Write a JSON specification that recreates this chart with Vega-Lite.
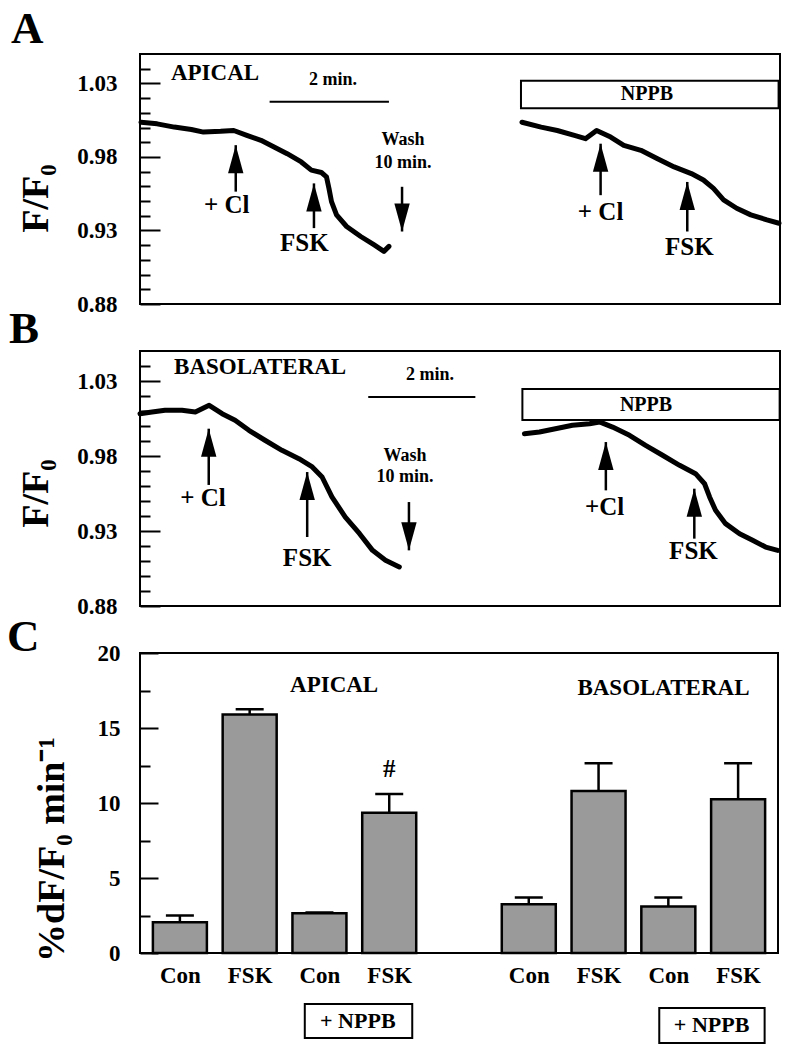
{
  "$schema": "https://vega.github.io/schema/vega-lite/v6.json",
  "padding": {"left": 6, "top": 6, "right": 0, "bottom": 0},
  "spacing": 47,
  "bounds": "flush",
  "config": {
    "font": "Liberation Serif",
    "view": {"stroke": "black", "strokeWidth": 2},
    "axis": {"labelFont": "Liberation Serif", "labelFontWeight": "bold", "labelColor": "black", "titleFont": "Liberation Serif", "titleFontWeight": "bold", "titleColor": "black", "grid": false, "domain": false, "tickColor": "black", "tickWidth": 2, "labelOverlap": false, "labelBound": false, "labelFlush": false},
    "text": {"font": "Liberation Serif", "fontWeight": "bold", "color": "black"},
    "title": {"font": "Liberation Serif", "fontWeight": "bold", "fontSize": 45, "color": "black", "anchor": "start", "frame": "bounds", "baseline": "alphabetic"}
  },
  "datasets": {
    "traceA": [
      {"seg": "control", "t": 1, "v": 1.0036}, {"seg": "control", "t": 17, "v": 1.0025}, {"seg": "control", "t": 34, "v": 1.0003}, {"seg": "control", "t": 51, "v": 0.9987}, {"seg": "control", "t": 63, "v": 0.9969}, {"seg": "control", "t": 80, "v": 0.9974}, {"seg": "control", "t": 93, "v": 0.998}, {"seg": "control", "t": 106, "v": 0.9947}, {"seg": "control", "t": 120, "v": 0.9913}, {"seg": "control", "t": 133, "v": 0.9868}, {"seg": "control", "t": 146, "v": 0.9822}, {"seg": "control", "t": 160, "v": 0.9766}, {"seg": "control", "t": 170, "v": 0.971}, {"seg": "control", "t": 180, "v": 0.9694}, {"seg": "control", "t": 185, "v": 0.9665}, {"seg": "control", "t": 187.5, "v": 0.9586}, {"seg": "control", "t": 190, "v": 0.9496}, {"seg": "control", "t": 195, "v": 0.9406}, {"seg": "control", "t": 205, "v": 0.9327}, {"seg": "control", "t": 219, "v": 0.9259}, {"seg": "control", "t": 232, "v": 0.9203}, {"seg": "control", "t": 242, "v": 0.9158}, {"seg": "control", "t": 247, "v": 0.9192},
      {"seg": "nppb", "t": 379, "v": 1.0036}, {"seg": "nppb", "t": 398, "v": 1.0003}, {"seg": "nppb", "t": 414, "v": 0.998}, {"seg": "nppb", "t": 431, "v": 0.9947}, {"seg": "nppb", "t": 442, "v": 0.9924}, {"seg": "nppb", "t": 453, "v": 0.998}, {"seg": "nppb", "t": 467, "v": 0.9935}, {"seg": "nppb", "t": 480, "v": 0.9879}, {"seg": "nppb", "t": 497, "v": 0.9845}, {"seg": "nppb", "t": 513, "v": 0.9789}, {"seg": "nppb", "t": 530, "v": 0.9732}, {"seg": "nppb", "t": 547, "v": 0.9687}, {"seg": "nppb", "t": 559, "v": 0.9643}, {"seg": "nppb", "t": 569, "v": 0.9586}, {"seg": "nppb", "t": 579, "v": 0.9508}, {"seg": "nppb", "t": 592, "v": 0.9451}, {"seg": "nppb", "t": 606, "v": 0.9406}, {"seg": "nppb", "t": 622, "v": 0.9372}, {"seg": "nppb", "t": 634, "v": 0.9349}
    ],
    "arrowsA": [
      {"event": "+Cl", "t": 95, "tip": 0.988, "tail": 0.9564, "dir": "up"},
      {"event": "FSK", "t": 172.6, "tip": 0.962, "tail": 0.9316, "dir": "up"},
      {"event": "Wash", "t": 260, "tip": 0.9293, "tail": 0.9597, "dir": "down"},
      {"event": "+Cl", "t": 457, "tip": 0.989, "tail": 0.954, "dir": "up"},
      {"event": "FSK", "t": 543, "tip": 0.963, "tail": 0.9293, "dir": "up"}
    ],
    "textA": [
      {"kind": "arrow", "t": 86, "v": 0.9474, "label": "+ Cl"},
      {"kind": "arrow", "t": 163, "v": 0.9216, "label": "FSK"},
      {"kind": "arrow", "t": 457, "v": 0.9428, "label": "+ Cl"},
      {"kind": "arrow", "t": 545, "v": 0.9189, "label": "FSK"},
      {"kind": "head", "t": 74.4, "v": 1.0374, "label": "APICAL"},
      {"kind": "note", "t": 191.5, "v": 1.032, "label": "2 min."},
      {"kind": "note", "t": 261, "v": 0.9918, "label": "Wash"},
      {"kind": "note", "t": 261, "v": 0.976, "label": "10 min."},
      {"kind": "box", "t": 503, "v": 1.0226, "label": "NPPB"}
    ],
    "barA": [{"t": 128.6, "t2": 247, "v": 1.0176}],
    "boxA": [{"t": 378, "t2": 633.6, "v": 1.0318, "v2": 1.0131}],
    "traceB": [
      {"seg": "control", "t": 0, "v": 1.0082}, {"seg": "control", "t": 13.5, "v": 1.0093}, {"seg": "control", "t": 28, "v": 1.0105}, {"seg": "control", "t": 47, "v": 1.0105}, {"seg": "control", "t": 62, "v": 1.0093}, {"seg": "control", "t": 77.5, "v": 1.0138}, {"seg": "control", "t": 92, "v": 1.0082}, {"seg": "control", "t": 106.5, "v": 1.0038}, {"seg": "control", "t": 122, "v": 0.9971}, {"seg": "control", "t": 140, "v": 0.9905}, {"seg": "control", "t": 159, "v": 0.9838}, {"seg": "control", "t": 178, "v": 0.9782}, {"seg": "control", "t": 193, "v": 0.9727}, {"seg": "control", "t": 204, "v": 0.966}, {"seg": "control", "t": 215, "v": 0.9527}, {"seg": "control", "t": 230, "v": 0.9393}, {"seg": "control", "t": 246, "v": 0.9282}, {"seg": "control", "t": 260.5, "v": 0.9171}, {"seg": "control", "t": 275, "v": 0.9105}, {"seg": "control", "t": 290.5, "v": 0.906},
      {"seg": "nppb", "t": 430.7, "v": 0.9949}, {"seg": "nppb", "t": 447.5, "v": 0.996}, {"seg": "nppb", "t": 465.4, "v": 0.9982}, {"seg": "nppb", "t": 484.5, "v": 1.0005}, {"seg": "nppb", "t": 503.6, "v": 1.0015}, {"seg": "nppb", "t": 514.8, "v": 1.0027}, {"seg": "nppb", "t": 529.4, "v": 0.9993}, {"seg": "nppb", "t": 548.4, "v": 0.9938}, {"seg": "nppb", "t": 566.4, "v": 0.9871}, {"seg": "nppb", "t": 585.4, "v": 0.9805}, {"seg": "nppb", "t": 604.5, "v": 0.9738}, {"seg": "nppb", "t": 622.4, "v": 0.9682}, {"seg": "nppb", "t": 632.5, "v": 0.9615}, {"seg": "nppb", "t": 638.1, "v": 0.9527}, {"seg": "nppb", "t": 644.8, "v": 0.9438}, {"seg": "nppb", "t": 656, "v": 0.9349}, {"seg": "nppb", "t": 671.7, "v": 0.9282}, {"seg": "nppb", "t": 686.3, "v": 0.9238}, {"seg": "nppb", "t": 700.9, "v": 0.9193}, {"seg": "nppb", "t": 714.4, "v": 0.9171}
    ],
    "arrowsB": [
      {"event": "+Cl", "t": 77, "tip": 0.9982, "tail": 0.9607, "dir": "up"},
      {"event": "FSK", "t": 187.3, "tip": 0.9693, "tail": 0.926, "dir": "up"},
      {"event": "Wash", "t": 301.3, "tip": 0.9171, "tail": 0.9493, "dir": "down"},
      {"event": "+Cl", "t": 521.9, "tip": 0.9893, "tail": 0.9571, "dir": "up"},
      {"event": "FSK", "t": 621, "tip": 0.9582, "tail": 0.9249, "dir": "up"}
    ],
    "textB": [
      {"kind": "arrow", "t": 70.6, "v": 0.9517, "label": "+ Cl"},
      {"kind": "arrow", "t": 187.3, "v": 0.9123, "label": "FSK"},
      {"kind": "arrow", "t": 520.4, "v": 0.946, "label": "+Cl"},
      {"kind": "arrow", "t": 620, "v": 0.917, "label": "FSK"},
      {"kind": "head", "t": 134.6, "v": 1.0393, "label": "BASOLATERAL"},
      {"kind": "note", "t": 325, "v": 1.0337, "label": "2 min."},
      {"kind": "note", "t": 297, "v": 0.9803, "label": "Wash"},
      {"kind": "note", "t": 297, "v": 0.9663, "label": "10 min."},
      {"kind": "box", "t": 566.9, "v": 1.0137, "label": "NPPB"}
    ],
    "barB": [{"t": 255.7, "t2": 375.7, "v": 1.0193}],
    "boxB": [{"t": 428.4, "t2": 716.6, "v": 1.0247, "v2": 1.004}],
    "bars": [
      {"pos": 0, "side": "apical", "cond": "Con", "nppb": false, "v": 2.05, "err": 2.5},
      {"pos": 1, "side": "apical", "cond": "FSK", "nppb": false, "v": 15.9, "err": 16.25},
      {"pos": 2, "side": "apical", "cond": "Con", "nppb": true, "v": 2.65, "err": 2.7},
      {"pos": 3, "side": "apical", "cond": "FSK", "nppb": true, "v": 9.35, "err": 10.6},
      {"pos": 5, "side": "basolateral", "cond": "Con", "nppb": false, "v": 3.25, "err": 3.7},
      {"pos": 6, "side": "basolateral", "cond": "FSK", "nppb": false, "v": 10.8, "err": 12.65},
      {"pos": 7, "side": "basolateral", "cond": "Con", "nppb": true, "v": 3.1, "err": 3.7},
      {"pos": 8, "side": "basolateral", "cond": "FSK", "nppb": true, "v": 10.25, "err": 12.65}
    ],
    "textC": [
      {"kind": "head", "pos": 2.21, "v": 17.9, "label": "APICAL"},
      {"kind": "head", "pos": 6.93, "v": 17.7, "label": "BASOLATERAL"},
      {"kind": "mark", "pos": 3, "v": 12.3, "label": "#"},
      {"kind": "box", "pos": 2.55, "v": -4.53, "label": "+ NPPB"},
      {"kind": "box", "pos": 7.62, "v": -4.8, "label": "+ NPPB"}
    ],
    "boxC": [
      {"p1": 1.79, "p2": 3.33, "lo": -5.67, "hi": -3.4},
      {"p1": 6.87, "p2": 8.38, "lo": -6.0, "hi": -3.67}
    ]
  },
  "vconcat": [
    {
      "width": 640,
      "height": 250,
      "title": {"text": "A", "offset": 2, "dx": -6},
      "layer": [
        {
          "data": {"name": "boxA"},
          "mark": {"type": "rect", "fill": "white", "stroke": "black", "strokeWidth": 2},
          "encoding": {
            "x": {"field": "t", "type": "quantitative", "scale": {"domain": [0, 635], "nice": false, "zero": false}, "axis": null},
            "x2": {"field": "t2"},
            "y": {"field": "v", "type": "quantitative", "scale": {"domain": [0.88, 1.05], "nice": false, "zero": false},
              "axis": {
                "title": "F/F₀", "titleFontSize": 38, "titleX": -93, "titleY": 144, "titleAngle": 270, "titleBaseline": "alphabetic", "titleAlign": "center",
                "values": [0.88, 0.89, 0.9, 0.91, 0.92, 0.93, 0.94, 0.95, 0.96, 0.97, 0.98, 0.99, 1.0, 1.01, 1.02, 1.03, 1.04],
                "tickCount": 100,
                "tickSize": {"condition": {"test": "round(datum.value*100) % 5 == 3", "value": -20}, "value": -10},
                "labelExpr": "round(datum.value*100) % 5 == 3 ? format(datum.value, '.2f') : ''",
                "labelFontSize": 23, "labelPadding": 43
              }
            },
            "y2": {"field": "v2"}
          }
        },
        {
          "data": {"name": "traceA"},
          "mark": {"type": "line", "color": "black", "strokeWidth": 5, "strokeJoin": "round", "strokeCap": "round"},
          "encoding": {
            "x": {"field": "t", "type": "quantitative"},
            "y": {"field": "v", "type": "quantitative"},
            "detail": {"field": "seg"}
          }
        },
        {
          "data": {"name": "barA"},
          "mark": {"type": "rule", "color": "black", "strokeWidth": 2},
          "encoding": {
            "x": {"field": "t", "type": "quantitative"},
            "x2": {"field": "t2"},
            "y": {"field": "v", "type": "quantitative"}
          }
        },
        {
          "data": {"name": "arrowsA"},
          "mark": {"type": "rule", "color": "black", "strokeWidth": 2.5},
          "encoding": {
            "x": {"field": "t", "type": "quantitative"},
            "y": {"field": "tip", "type": "quantitative"},
            "y2": {"field": "tail"}
          }
        },
        {
          "data": {"name": "arrowsA"},
          "mark": {"type": "point", "filled": true, "color": "black", "opacity": 1, "size": 784, "strokeWidth": 0},
          "encoding": {
            "x": {"field": "t", "type": "quantitative"},
            "y": {"field": "tip", "type": "quantitative"},
            "shape": {"field": "dir", "type": "nominal", "scale": {"domain": ["up", "down"], "range": ["M0,0L0.55,2L-0.55,2Z", "M0,0L0.55,-2L-0.55,-2Z"]}, "legend": null}
          }
        },
        {
          "data": {"name": "textA"},
          "transform": [{"filter": "datum.kind == 'arrow'"}],
          "mark": {"type": "text", "fontSize": 25, "align": "center", "baseline": "middle"},
          "encoding": {"x": {"field": "t", "type": "quantitative"}, "y": {"field": "v", "type": "quantitative"}, "text": {"field": "label"}}
        },
        {
          "data": {"name": "textA"},
          "transform": [{"filter": "datum.kind == 'head'"}],
          "mark": {"type": "text", "fontSize": 23, "align": "center", "baseline": "middle"},
          "encoding": {"x": {"field": "t", "type": "quantitative"}, "y": {"field": "v", "type": "quantitative"}, "text": {"field": "label"}}
        },
        {
          "data": {"name": "textA"},
          "transform": [{"filter": "datum.kind == 'note'"}],
          "mark": {"type": "text", "fontSize": 18, "align": "center", "baseline": "middle"},
          "encoding": {"x": {"field": "t", "type": "quantitative"}, "y": {"field": "v", "type": "quantitative"}, "text": {"field": "label"}}
        },
        {
          "data": {"name": "textA"},
          "transform": [{"filter": "datum.kind == 'box'"}],
          "mark": {"type": "text", "fontSize": 20, "align": "center", "baseline": "middle"},
          "encoding": {"x": {"field": "t", "type": "quantitative"}, "y": {"field": "v", "type": "quantitative"}, "text": {"field": "label"}}
        }
      ]
    },
    {
      "width": 640,
      "height": 255,
      "title": {"text": "B", "offset": -1, "dx": -8},
      "layer": [
        {
          "data": {"name": "boxB"},
          "mark": {"type": "rect", "fill": "white", "stroke": "black", "strokeWidth": 2},
          "encoding": {
            "x": {"field": "t", "type": "quantitative", "scale": {"domain": [0, 717], "nice": false, "zero": false}, "axis": null},
            "x2": {"field": "t2"},
            "y": {"field": "v", "type": "quantitative", "scale": {"domain": [0.88, 1.05], "nice": false, "zero": false},
              "axis": {
                "title": "F/F₀", "titleFontSize": 38, "titleX": -93, "titleY": 142, "titleAngle": 270, "titleBaseline": "alphabetic", "titleAlign": "center",
                "values": [0.88, 0.89, 0.9, 0.91, 0.92, 0.93, 0.94, 0.95, 0.96, 0.97, 0.98, 0.99, 1.0, 1.01, 1.02, 1.03, 1.04],
                "tickCount": 100,
                "tickSize": {"condition": {"test": "round(datum.value*100) % 5 == 3", "value": -20}, "value": -10},
                "labelExpr": "round(datum.value*100) % 5 == 3 ? format(datum.value, '.2f') : ''",
                "labelFontSize": 23, "labelPadding": 43
              }
            },
            "y2": {"field": "v2"}
          }
        },
        {
          "data": {"name": "traceB"},
          "mark": {"type": "line", "color": "black", "strokeWidth": 5, "strokeJoin": "round", "strokeCap": "round"},
          "encoding": {
            "x": {"field": "t", "type": "quantitative"},
            "y": {"field": "v", "type": "quantitative"},
            "detail": {"field": "seg"}
          }
        },
        {
          "data": {"name": "barB"},
          "mark": {"type": "rule", "color": "black", "strokeWidth": 2},
          "encoding": {
            "x": {"field": "t", "type": "quantitative"},
            "x2": {"field": "t2"},
            "y": {"field": "v", "type": "quantitative"}
          }
        },
        {
          "data": {"name": "arrowsB"},
          "mark": {"type": "rule", "color": "black", "strokeWidth": 2.5},
          "encoding": {
            "x": {"field": "t", "type": "quantitative"},
            "y": {"field": "tip", "type": "quantitative"},
            "y2": {"field": "tail"}
          }
        },
        {
          "data": {"name": "arrowsB"},
          "mark": {"type": "point", "filled": true, "color": "black", "opacity": 1, "size": 784, "strokeWidth": 0},
          "encoding": {
            "x": {"field": "t", "type": "quantitative"},
            "y": {"field": "tip", "type": "quantitative"},
            "shape": {"field": "dir", "type": "nominal", "scale": {"domain": ["up", "down"], "range": ["M0,0L0.55,2L-0.55,2Z", "M0,0L0.55,-2L-0.55,-2Z"]}, "legend": null}
          }
        },
        {
          "data": {"name": "textB"},
          "transform": [{"filter": "datum.kind == 'arrow'"}],
          "mark": {"type": "text", "fontSize": 25, "align": "center", "baseline": "middle"},
          "encoding": {"x": {"field": "t", "type": "quantitative"}, "y": {"field": "v", "type": "quantitative"}, "text": {"field": "label"}}
        },
        {
          "data": {"name": "textB"},
          "transform": [{"filter": "datum.kind == 'head'"}],
          "mark": {"type": "text", "fontSize": 23, "align": "center", "baseline": "middle"},
          "encoding": {"x": {"field": "t", "type": "quantitative"}, "y": {"field": "v", "type": "quantitative"}, "text": {"field": "label"}}
        },
        {
          "data": {"name": "textB"},
          "transform": [{"filter": "datum.kind == 'note'"}],
          "mark": {"type": "text", "fontSize": 18, "align": "center", "baseline": "middle"},
          "encoding": {"x": {"field": "t", "type": "quantitative"}, "y": {"field": "v", "type": "quantitative"}, "text": {"field": "label"}}
        },
        {
          "data": {"name": "textB"},
          "transform": [{"filter": "datum.kind == 'box'"}],
          "mark": {"type": "text", "fontSize": 20, "align": "center", "baseline": "middle"},
          "encoding": {"x": {"field": "t", "type": "quantitative"}, "y": {"field": "v", "type": "quantitative"}, "text": {"field": "label"}}
        }
      ]
    },
    {
      "width": 638,
      "height": 300,
      "title": {"text": "C", "offset": -18, "dx": -26},
      "layer": [
        {
          "data": {"name": "bars"},
          "mark": {"type": "bar", "size": 54, "fill": "#9a9a9a", "stroke": "black", "strokeWidth": 2.5},
          "encoding": {
            "x": {"field": "pos", "type": "quantitative", "scale": {"domain": [-0.5, 8.5], "nice": false, "zero": false},
              "axis": {"values": [0, 1, 2, 3, 5, 6, 7, 8], "tickCount": 100, "labelExpr": "(datum.value == 0 || datum.value == 2 || datum.value == 5 || datum.value == 7) ? 'Con' : 'FSK'", "ticks": false, "tickSize": 0, "labelPadding": 22, "labelFontSize": 23, "labelBaseline": "middle", "title": null}
            },
            "y": {"field": "v", "type": "quantitative", "scale": {"domain": [0, 20], "nice": false},
              "axis": {
                "title": "%dF/F₀ min⁻¹", "titleFontSize": 38, "titleX": -77, "titleY": 196, "titleAngle": 270, "titleBaseline": "alphabetic", "titleAlign": "center",
                "values": [0, 2.5, 5, 7.5, 10, 12.5, 15, 17.5, 20],
                "tickCount": 100,
                "tickSize": {"condition": {"test": "datum.value % 5 == 0", "value": -18}, "value": -10},
                "labelExpr": "datum.value % 5 == 0 ? format(datum.value, 'd') : ''",
                "labelFontSize": 23, "labelPadding": 38
              }
            }
          }
        },
        {
          "data": {"name": "bars"},
          "mark": {"type": "rule", "color": "black", "strokeWidth": 2.5},
          "encoding": {
            "x": {"field": "pos", "type": "quantitative"},
            "y": {"field": "v", "type": "quantitative"},
            "y2": {"field": "err"}
          }
        },
        {
          "data": {"name": "bars"},
          "mark": {"type": "tick", "orient": "horizontal", "color": "black", "size": 28, "thickness": 2.5, "opacity": 1},
          "encoding": {
            "x": {"field": "pos", "type": "quantitative"},
            "y": {"field": "err", "type": "quantitative"}
          }
        },
        {
          "data": {"name": "boxC"},
          "mark": {"type": "rect", "fill": "white", "stroke": "black", "strokeWidth": 2},
          "encoding": {
            "x": {"field": "p1", "type": "quantitative"},
            "x2": {"field": "p2"},
            "y": {"field": "lo", "type": "quantitative"},
            "y2": {"field": "hi"}
          }
        },
        {
          "data": {"name": "textC"},
          "transform": [{"filter": "datum.kind == 'head'"}],
          "mark": {"type": "text", "fontSize": 23, "align": "center", "baseline": "middle"},
          "encoding": {"x": {"field": "pos", "type": "quantitative"}, "y": {"field": "v", "type": "quantitative"}, "text": {"field": "label"}}
        },
        {
          "data": {"name": "textC"},
          "transform": [{"filter": "datum.kind == 'mark'"}],
          "mark": {"type": "text", "fontSize": 25, "align": "center", "baseline": "middle"},
          "encoding": {"x": {"field": "pos", "type": "quantitative"}, "y": {"field": "v", "type": "quantitative"}, "text": {"field": "label"}}
        },
        {
          "data": {"name": "textC"},
          "transform": [{"filter": "datum.kind == 'box'"}],
          "mark": {"type": "text", "fontSize": 22, "align": "center", "baseline": "middle"},
          "encoding": {"x": {"field": "pos", "type": "quantitative"}, "y": {"field": "v", "type": "quantitative"}, "text": {"field": "label"}}
        }
      ]
    }
  ]
}
